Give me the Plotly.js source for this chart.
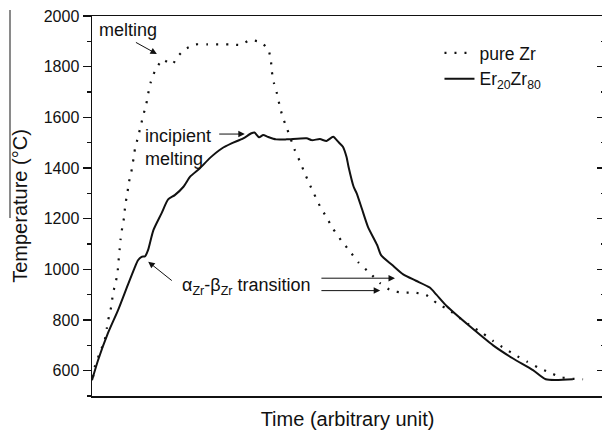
<!DOCTYPE html>
<html>
<head>
<meta charset="utf-8">
<script src="https://cdn.plot.ly/plotly-3.0.1.min.js"></script>
<style>
  html, body { margin: 0; padding: 0; overflow: hidden; background: #fff; }
  #chart { width: 603px; height: 430px; }
</style>
</head>
<body>
<div id="chart"></div>
<script>
// Heating / cooling curves, temperature against time (arbitrary units, 0–100)

// pure Zr (dotted)
const zrTime = [0.2, 0.6, 1.7, 2.5, 2.9, 3.3, 3.8, 4.1, 4.6, 5.0, 5.2, 5.4, 5.6, 5.9,
  6.3, 6.5, 6.9, 7.2, 7.7, 8.0, 8.2, 8.4, 9.0, 9.5, 10.0, 10.6, 11.0, 11.5, 12.3,
  13.8, 15.7, 16.9, 18.2, 20.3, 22.6, 24.7, 26.9, 29.1, 30.9, 33.0, 34.5, 35.0,
  35.2, 35.6, 36.2, 36.7, 37.3, 38.1, 39.7, 40.7, 41.6, 42.5, 43.5, 44.6, 45.9,
  47.2, 48.7, 50.4, 52.1, 54.4, 56.4, 58.6, 60.9, 63.2, 65.4, 67.5, 69.9, 72.0,
  74.2, 76.5, 78.5, 80.7, 82.8, 85.1, 87.3, 89.6, 91.8, 93.9, 96.1];
const zrTemp = [575, 620, 679, 721, 767, 813, 856, 905, 945, 987, 1034, 1076, 1120, 1162,
  1208, 1254, 1297, 1342, 1385, 1424, 1440, 1475, 1521, 1563, 1606, 1650, 1694, 1739, 1782,
  1828, 1809, 1843, 1869, 1888, 1888, 1888, 1888, 1886, 1905, 1897, 1869, 1826,
  1780, 1736, 1694, 1648, 1602, 1559, 1470, 1425, 1381, 1339, 1296, 1250, 1205,
  1159, 1116, 1073, 1028, 985, 945, 915, 908, 908, 899, 866, 839, 807,
  776, 747, 717, 688, 662, 636, 612, 592, 574, 568, 566];

// Er20Zr80 alloy (solid)
const alloyTime = [0.0, 1.2, 3.1, 5.1, 7.0, 8.3, 9.0, 9.7, 10.4, 11.0, 12.0, 13.6, 14.9,
  16.2, 17.9, 19.2, 21.1, 23.1, 25.4, 27.3, 29.6, 31.2, 31.8, 32.7, 33.5, 34.4, 36.0,
  38.1, 42.0, 43.0, 44.6, 45.9, 47.2, 48.2, 49.1, 49.8, 50.2, 51.2, 51.8, 52.8, 54.0,
  55.8, 56.6, 58.7, 60.9, 63.4, 66.1, 67.4, 69.4, 74.0, 78.5, 82.4, 86.3, 88.8, 94.1];
const alloyTemp = [562, 642, 747, 839, 938, 1004, 1036, 1049, 1052, 1078, 1154, 1221, 1276,
  1293, 1326, 1366, 1399, 1440, 1477, 1497, 1517, 1537, 1540, 1521, 1530, 1523, 1513,
  1513, 1517, 1510, 1514, 1507, 1523, 1503, 1484, 1444, 1405, 1326, 1300, 1240, 1168,
  1096, 1055, 1018, 980, 955, 928, 900, 855, 774, 700, 648, 602, 566, 566];

const seriesNames = ['pure Zr', 'Er<sub>20</sub>Zr<sub>80</sub>'];
const tempTicks = [600, 800, 1000, 1200, 1400, 1600, 1800, 2000];
const tempTickText = ['600', '800', '1000', '1200', '1400', '1600', '1800', '2000'];
const tempMinorTicks = [500, 700, 900, 1100, 1300, 1500, 1700, 1900];

const FONT = 'Liberation Sans, Arial, sans-serif';
const INK = '#111';

const traces = [
  {
    x: zrTime, y: zrTemp, name: seriesNames[0], mode: 'lines', type: 'scatter',
    line: { color: INK, width: 2.2, dash: '2px,8px', shape: 'spline', smoothing: 0.4 }
  },
  {
    x: alloyTime, y: alloyTemp, name: seriesNames[1], mode: 'lines', type: 'scatter',
    line: { color: INK, width: 2, shape: 'spline', smoothing: 0.6 }
  },
  // carries the inward ticks on the right frame edge
  { x: [], y: [], yaxis: 'y2', showlegend: false, hoverinfo: 'skip' }
];

const arrow = (x, y, ax, ay) => ({
  x: x, y: y, ax: ax, ay: ay, xref: 'x', yref: 'y', axref: 'x', ayref: 'y',
  text: '', showarrow: true, arrowhead: 2, arrowsize: 1.3, arrowwidth: 1,
  arrowcolor: INK, standoff: 0, startstandoff: 0
});

const label = (x, y, text) => ({
  x: x, y: y, xref: 'x', yref: 'y', text: text, showarrow: false,
  xanchor: 'left', yanchor: 'middle', align: 'left',
  font: { family: FONT, size: 18, color: INK }
});

const layout = {
  width: 603, height: 430,
  margin: { l: 92, r: 0, t: 16, b: 34 },
  paper_bgcolor: '#fff', plot_bgcolor: '#fff',
  font: { family: FONT, color: INK },
  showlegend: true,
  legend: {
    x: 0.68, y: 0.95, xanchor: 'left', yanchor: 'top',
    bgcolor: 'rgba(0,0,0,0)', borderwidth: 0,
    font: { family: FONT, size: 17.5, color: INK }, tracegroupgap: 0
  },
  xaxis: {
    range: [0, 100], showgrid: false, zeroline: false,
    showline: true, linecolor: INK, linewidth: 1.5, mirror: true,
    ticks: '', showticklabels: false,
    title: { text: 'Time (arbitrary unit)', font: { family: FONT, size: 20, color: INK }, standoff: 17 }
  },
  yaxis: {
    range: [500, 2000], showgrid: false, zeroline: false,
    showline: true, linecolor: INK, linewidth: 1.5, mirror: true,
    tickmode: 'array', tickvals: tempTicks, ticktext: tempTickText,
    ticks: 'outside', ticklen: 8, tickwidth: 1.2, tickcolor: INK,
    minor: { tickmode: 'array', tickvals: tempMinorTicks, ticks: 'outside', ticklen: 4, tickwidth: 1.2, tickcolor: INK },
    tickfont: { family: FONT, size: 16, color: INK },
    title: { text: 'Temperature (°C)', font: { family: FONT, size: 20, color: INK }, standoff: 10 }
  },
  yaxis2: {
    overlaying: 'y', side: 'right', anchor: 'x',
    range: [500, 2000], showgrid: false, zeroline: false, showline: false,
    tickmode: 'array', tickvals: tempTicks, showticklabels: false,
    ticks: 'inside', ticklen: 6, tickwidth: 1.2, tickcolor: INK,
    minor: { tickmode: 'array', tickvals: tempMinorTicks, ticks: 'inside', ticklen: 2, tickwidth: 1.2, tickcolor: INK }
  },
  shapes: [
    { type: 'line', xref: 'paper', yref: 'paper', x0: -0.1605, x1: -0.1605, y0: 1.0158, y1: 0.4684,
      line: { color: '#8a8a8a', width: 2 } }
  ],
  annotations: [
    label(1.0, 1945, 'melting'),
    arrow(12.7, 1850, 8.3, 1899),
    label(10.0, 1480, 'incipient<br>melting'),
    arrow(29.9, 1534, 24.6, 1534),
    label(17.2, 931, 'α<sub>Zr</sub>-β<sub>Zr</sub> transition'),
    arrow(11.0, 1030, 15.9, 951),
    arrow(59.3, 965, 44.6, 965),
    arrow(56.4, 916, 44.6, 916)
  ]
};

Plotly.newPlot('chart', traces, layout, { displayModeBar: false, staticPlot: true });
</script>
</body>
</html>
